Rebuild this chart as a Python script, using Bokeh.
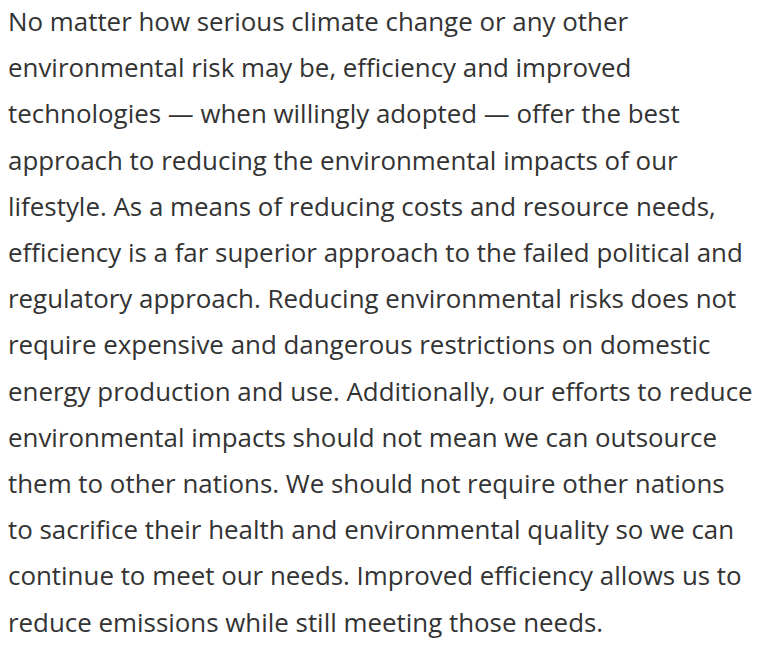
from bokeh.plotting import figure
from bokeh.models import Range1d, ColumnDataSource
from bokeh.core.properties import value
from bokeh.embed import file_html
from bokeh.resources import INLINE

lines = [
    "No matter how serious climate change or any other",
    "environmental risk may be, efficiency and improved",
    "technologies \u2014 when willingly adopted \u2014 offer the best",
    "approach to reducing the environmental impacts of our",
    "lifestyle. As a means of reducing costs and resource needs,",
    "efficiency is a far superior approach to the failed political and",
    "regulatory approach. Reducing environmental risks does not",
    "require expensive and dangerous restrictions on domestic",
    "energy production and use. Additionally, our efforts to reduce",
    "environmental impacts should not mean we can outsource",
    "them to other nations. We should not require other nations",
    "to sacrifice their health and environmental quality so we can",
    "continue to meet our needs. Improved efficiency allows us to",
    "reduce emissions while still meeting those needs.",
]

W, H = 761, 644
left = 7.5
first_baseline = 20.5
line_gap = 46.2

ys = [first_baseline + i * line_gap for i in range(len(lines))]
src = ColumnDataSource(dict(x=[left] * len(lines), y=ys, t=lines))

p = figure(width=W, height=H, output_backend="svg", toolbar_location=None,
           x_range=Range1d(0, W), y_range=Range1d(H, 0), min_border=0)
p.axis.visible = False
p.grid.visible = False
p.outline_line_color = None
p.background_fill_color = "white"
p.border_fill_color = "white"

p.text(x="x", y="y", text="t", source=src, text_font=value("Open Sans"),
       text_font_size="25.9px", text_color="#333333", text_baseline="alphabetic",
       text_align="left")

open("out.html", "w").write(file_html(p, INLINE))
